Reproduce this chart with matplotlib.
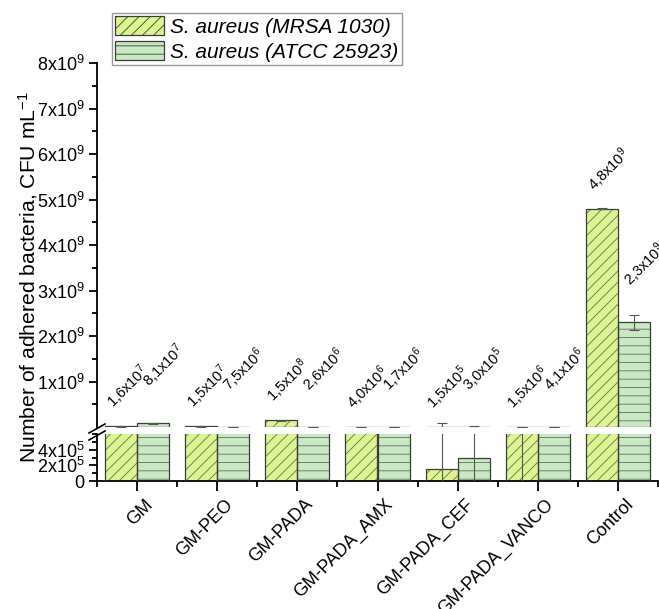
import numpy as np
import matplotlib
matplotlib.use("Agg")
import matplotlib.pyplot as plt
from matplotlib.ticker import MultipleLocator, FixedLocator, FuncFormatter
from matplotlib.transforms import ScaledTranslation
from matplotlib.lines import Line2D
from matplotlib.patches import Patch

plt.rcParams['font.family'] = ['Liberation Sans', 'DejaVu Sans']
plt.rcParams['mathtext.fontset'] = 'custom'
plt.rcParams['mathtext.rm'] = 'Liberation Sans'
plt.rcParams['mathtext.it'] = 'Liberation Sans:italic'
plt.rcParams['mathtext.default'] = 'regular'
plt.rcParams['hatch.linewidth'] = 0.6

# ---------------- data ----------------
categories = ['GM', 'GM-PEO', 'GM-PADA', 'GM-PADA_AMX', 'GM-PADA_CEF',
              'GM-PADA_VANCO', 'Control']
series_names = ['S. aureus (MRSA 1030)', 'S. aureus (ATCC 25923)']
mrsa = [1.6e7, 1.5e7, 1.5e8, 4.0e6, 1.5e5, 1.5e6, 4.8e9]
atcc = [8.1e7, 7.5e6, 2.6e6, 1.7e6, 3.0e5, 4.1e6, 2.3e9]
mrsa_err = [8e6, 6e6, 1.5e7, 2e6, 9e7, 2.0e6, 1.2e7]
atcc_err = [1e7, 3e6, 1e6, 1e6, 1.5e7, 2e6, 1.7e8]
upper_ticks = [1e9, 2e9, 3e9, 4e9, 5e9, 6e9, 7e9, 8e9]
lower_ticks = [0, 2e5, 4e5]
upper_range = (6e5, 8e9)
lower_range = (0, 6e5)

# ---------------- style ----------------
fill_mrsa = '#dcf58e'
fill_atcc = '#c9e9c3'
hatch_col = '#6a6a6a'
edge_col = '#3c3c3c'
W, H = 659, 609

fig = plt.figure(figsize=(W / 100, H / 100), dpi=100)


def rect(x0, y0, x1, y1):
    return [x0 / W, 1 - y1 / H, (x1 - x0) / W, (y1 - y0) / H]


ax_up = fig.add_axes(rect(97, 63, 658, 427))
ax_lo = fig.add_axes(rect(97, 434, 658, 481), sharex=ax_up)

x = np.arange(len(categories))
w = 0.4


def sci(v, sep='x'):
    e = int(np.floor(np.log10(v)))
    m = v / 10 ** e
    return f'{m:.1f}'.replace('.', ',') + sep + '10$^{' + str(e) + '}$'


for ax in (ax_up, ax_lo):
    for xs, vals, errs, fc, hatch in ((x - w / 2, mrsa, mrsa_err, fill_mrsa, '///'),
                                      (x + w / 2, atcc, atcc_err, fill_atcc, '--')):
        ax.bar(xs, vals, w, color=fc, hatch=hatch, edgecolor=hatch_col,
               linewidth=0, zorder=2)
        ax.bar(xs, vals, w, fill=False, edgecolor=edge_col, linewidth=0.9,
               zorder=3)
        ax.errorbar(xs, vals, yerr=errs, fmt='none', ecolor='#555555',
                    elinewidth=0.8, capsize=3.5, capthick=0.8, zorder=4)
    for s in ('top', 'right'):
        ax.spines[s].set_visible(False)
    ax.spines['left'].set_linewidth(1.3)
    ax.spines['bottom'].set_linewidth(1.3)
    ax.tick_params(axis='both', which='major', direction='out', length=6,
                   width=1.3, labelsize=13, pad=3)
    ax.tick_params(axis='both', which='minor', direction='out', length=3.5,
                   width=1.3)

ax_up.set_ylim(*upper_range)
ax_lo.set_ylim(*lower_range)
ax_up.set_xlim(-0.5, len(categories) - 0.5)

ax_up.spines['bottom'].set_visible(False)
ax_up.tick_params(axis='x', which='both', bottom=False, labelbottom=False)

ax_up.yaxis.set_major_locator(FixedLocator(upper_ticks))
ax_up.yaxis.set_minor_locator(MultipleLocator(0.5e9))
ax_lo.yaxis.set_major_locator(FixedLocator(lower_ticks))
ax_lo.yaxis.set_minor_locator(MultipleLocator(1e5))


def yfmt(v, pos):
    if v == 0:
        return '0'
    e = int(np.floor(np.log10(v)))
    m = int(round(v / 10 ** e))
    return f'{m}x10$^{{{e}}}$'


ax_up.yaxis.set_major_formatter(FuncFormatter(yfmt))
ax_lo.yaxis.set_major_formatter(FuncFormatter(yfmt))

ax_lo.set_xticks(x)
ax_lo.xaxis.set_minor_locator(FixedLocator(np.arange(-0.5, len(categories), 1)))
ax_lo.set_xticklabels(categories, rotation=45, ha='right', va='center',
                      rotation_mode='anchor', fontsize=13)
ax_lo.tick_params(axis='x', which='major', length=7, pad=8)
ax_lo.tick_params(axis='x', which='minor', length=4)
for lab in ax_lo.get_xticklabels():
    lab.set_transform(lab.get_transform() +
                      ScaledTranslation(0.13, 0, fig.dpi_scale_trans))

# value labels
for xs, vals, errs, off in ((x - w / 2, mrsa, mrsa_err, (4.7, 10)),
                            (x + w / 2, atcc, atcc_err, (7.6, 23))):
    for xi, v in zip(xs, vals):
        ytop = max(v, upper_range[0])
        ax_up.annotate(sci(v), xy=(xi, ytop), xytext=off,
                       textcoords='offset points', rotation=45,
                       ha='center', va='bottom', fontsize=10.5,
                       annotation_clip=False, clip_on=False)

fig.text(28 / W, 1 - 277 / H, 'Number of adhered bacteria, CFU mL$^{-1}$',
         rotation=90, ha='center', va='center', fontsize=15.2)

# break marks
for dy in (0, 7):
    fig.add_artist(Line2D([89 / W, 105 / W],
                          [1 - (433 + dy) / H, 1 - (424 + dy) / H],
                          color='black', lw=1.2))

handles = [Patch(facecolor=fill_mrsa, edgecolor=edge_col, hatch='///', lw=0.9),
           Patch(facecolor=fill_atcc, edgecolor=edge_col, hatch='--', lw=0.9)]
leg = fig.legend(handles, series_names, loc='upper left',
                 bbox_to_anchor=(112 / W, 1 - 13 / H), borderaxespad=0,
                 prop={'style': 'italic', 'size': 15}, frameon=True,
                 fancybox=False, edgecolor='#808080', handlelength=2.35,
                 handleheight=1.05, labelspacing=0.2, handletextpad=0.3,
                 borderpad=0.15)
leg.get_frame().set_linewidth(1.0)

fig.savefig('out.png', dpi=100)
